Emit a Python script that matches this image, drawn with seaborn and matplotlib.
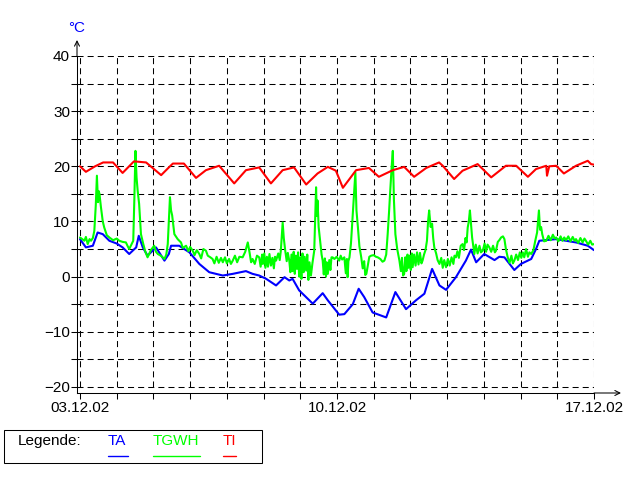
import matplotlib
matplotlib.use("Agg")
import matplotlib.pyplot as plt
import matplotlib.patches as patches
from matplotlib.lines import Line2D
import pandas as pd
import seaborn as sns

# time in days since 03.12.02 00:00, values in degC
ta_day = [0.00, 0.16, 0.35, 0.48, 0.62, 0.80, 1.00, 1.16, 1.34, 1.53, 1.60, 1.71, 1.84,
          2.07, 2.30, 2.42, 2.48, 2.70, 2.98, 3.25, 3.52, 3.89, 4.16, 4.52, 4.70, 4.88,
          5.07, 5.34, 5.57, 5.70, 5.79, 5.97, 6.34, 6.61, 6.75, 7.06, 7.20, 7.43, 7.59,
          7.74, 7.97, 8.34, 8.59, 8.88, 9.15, 9.38, 9.59, 9.79, 9.97, 10.24, 10.51, 10.65,
          10.79, 11.01, 11.29, 11.42, 11.56, 11.83, 12.01, 12.29, 12.42, 12.51, 12.97,
          13.51, 13.83, 14.00]
ta_val = [6.8, 5.3, 5.6, 8.0, 7.7, 6.5, 6.0, 5.3, 4.1, 5.3, 7.4, 5.3, 3.8,
          5.3, 2.9, 4.1, 5.6, 5.6, 4.4, 2.3, 0.8, 0.2, 0.5, 1.0, 0.5, 0.2,
          -0.4, -1.6, -0.1, -0.7, -0.4, -2.5, -4.9, -3.0, -4.3, -6.9, -6.8, -5.0, -2.2,
          -3.7, -6.5, -7.4, -2.8, -5.9, -4.3, -3.1, 1.4, -1.6, -2.4, -0.1, 2.9, 4.9,
          2.6, 4.1, 3.0, 3.6, 3.5, 1.2, 2.3, 3.2, 5.0, 6.5, 6.8,
          6.2, 5.6, 4.8]

tgwh_day = [0.00, 0.06, 0.12, 0.16, 0.21, 0.26, 0.30, 0.35, 0.39, 0.43, 0.46, 0.49, 0.51,
            0.53, 0.57, 0.62, 0.66, 0.73, 0.80, 0.90, 1.00, 1.07, 1.16, 1.25, 1.30, 1.34,
            1.40, 1.45, 1.48, 1.51, 1.54, 1.57, 1.61, 1.66, 1.72, 1.78, 1.84, 1.93, 2.02,
            2.07, 2.12, 2.20, 2.30, 2.35, 2.39, 2.42, 2.45, 2.48, 2.51, 2.57, 2.66, 2.75,
            2.80, 2.89, 2.95, 3.00, 3.07, 3.12, 3.18, 3.25, 3.30, 3.36, 3.43, 3.48, 3.55,
            3.61, 3.66, 3.72, 3.78, 3.84, 3.89, 3.95, 4.00, 4.06, 4.11, 4.16, 4.22, 4.28,
            4.34, 4.43, 4.50, 4.57, 4.62, 4.66, 4.70, 4.76, 4.82, 4.88, 4.92, 4.96, 4.98,
            5.02, 5.05, 5.09, 5.12, 5.16, 5.20, 5.24, 5.28, 5.31, 5.34, 5.40, 5.44, 5.47,
            5.52, 5.55, 5.59, 5.63, 5.66, 5.70, 5.73, 5.76, 5.79, 5.82, 5.85, 5.88, 5.91,
            5.94, 5.97, 6.00, 6.03, 6.06, 6.09, 6.12, 6.16, 6.19, 6.22, 6.25, 6.29, 6.33,
            6.38, 6.41, 6.43, 6.45, 6.47, 6.50, 6.54, 6.58, 6.61, 6.64, 6.67, 6.70, 6.72,
            6.75, 6.79, 6.82, 6.85, 6.88, 6.93, 6.99, 7.06, 7.10, 7.14, 7.20, 7.24, 7.27,
            7.29, 7.31, 7.34, 7.38, 7.43, 7.47, 7.50, 7.53, 7.57, 7.61, 7.66, 7.70, 7.74,
            7.77, 7.80, 7.84, 7.88, 7.93, 8.00, 8.06, 8.11, 8.18, 8.24, 8.29, 8.34, 8.38,
            8.42, 8.45, 8.49, 8.52, 8.55, 8.59, 8.64, 8.70, 8.74, 8.77, 8.80, 8.83, 8.86,
            8.89, 8.92, 8.95, 8.98, 9.01, 9.04, 9.06, 9.10, 9.14, 9.18, 9.22, 9.26, 9.30,
            9.33, 9.37, 9.41, 9.45, 9.48, 9.51, 9.55, 9.59, 9.62, 9.65, 9.70, 9.74, 9.79,
            9.84, 9.88, 9.92, 9.97, 10.02, 10.07, 10.12, 10.17, 10.20, 10.24, 10.28, 10.32,
            10.37, 10.42, 10.46, 10.50, 10.53, 10.56, 10.59, 10.62, 10.65, 10.68, 10.74,
            10.78, 10.83, 10.88, 10.92, 10.97, 11.02, 11.06, 11.10, 11.15, 11.20, 11.25,
            11.30, 11.33, 11.38, 11.42, 11.47, 11.52, 11.56, 11.60, 11.65, 11.70, 11.75,
            11.79, 11.83, 11.88, 11.93, 11.98, 12.02, 12.06, 12.10, 12.15, 12.20, 12.24,
            12.29, 12.35, 12.40, 12.45, 12.48, 12.50, 12.53, 12.56, 12.59, 12.64, 12.70,
            12.76, 12.82, 12.88, 12.93, 12.97, 13.03, 13.09, 13.14, 13.19, 13.24, 13.30,
            13.36, 13.42, 13.47, 13.51, 13.57, 13.63, 13.69, 13.74, 13.78, 13.84, 13.90,
            13.95, 14.00]
tgwh_val = [7.1, 6.8, 6.5, 7.2, 5.9, 6.8, 6.5, 7.0, 8.3, 13.0, 18.3, 13.5, 15.5,
            15.0, 12.6, 10.0, 8.9, 7.5, 7.1, 6.6, 6.9, 6.5, 6.3, 6.2, 5.5, 5.0,
            5.8, 6.5, 14.0, 22.8, 18.0, 15.6, 13.2, 7.7, 6.0, 4.5, 3.5, 4.8, 5.6,
            4.5, 4.1, 3.8, 3.2, 4.0, 5.9, 10.0, 14.4, 12.0, 11.1, 7.7, 6.8, 6.2,
            5.2, 5.6, 4.6, 5.4, 4.7, 3.9, 4.8, 4.1, 3.3, 5.0, 4.7, 3.8, 3.5,
            3.2, 2.4, 3.6, 2.5, 3.4, 2.6, 3.5, 2.4, 3.2, 2.3, 2.9, 3.8, 2.6,
            3.6, 3.5, 4.5, 6.2, 4.3, 2.6, 3.2, 2.3, 3.8, 3.5, 1.8, 4.0, 2.3,
            4.2, 1.6, 3.6, 1.8, 4.1, 2.0, 3.4, 1.5, 3.6, 2.9, 4.2, 3.0, 4.7,
            9.8, 7.0, 4.7, 2.8, 4.3, 2.9, 0.8, 4.0, 1.0, 4.5, 0.5, 3.8, 1.4,
            4.4, 0.0, 3.5, -0.4, 4.2, 0.8, 3.6, 1.1, 4.0, -0.6, 2.6, 0.2, 2.4,
            4.7, 12.0, 16.2, 11.0, 13.8, 9.0, 6.5, 4.0, 2.9, 0.4, 3.3, 0.0, 2.6,
            0.5, 3.0, 1.2, 3.5, 3.5, 3.2, 3.6, 2.9, 3.8, 3.1, 3.5, 0.6, 3.2,
            -0.1, 2.8, 3.5, 6.0, 11.4, 16.0, 18.9, 12.0, 8.9, 5.5, 3.5, 1.5, 2.8,
            0.3, 0.5, 2.0, 3.6, 3.8, 3.9, 3.6, 3.5, 3.2, 2.7, 2.9, 4.0, 7.7,
            12.0, 15.6, 20.0, 22.8, 14.0, 7.7, 5.0, 2.9, 1.0, 3.4, 0.2, 0.5, 3.5,
            1.0, 4.0, 1.6, 3.8, 1.2, 4.2, 1.7, 4.0, 2.0, 4.4, 2.2, 4.3, 2.4,
            2.9, 4.0, 4.8, 6.5, 10.0, 12.0, 9.0, 9.6, 7.0, 5.3, 4.2, 3.0, 2.3,
            3.4, 1.6, 3.0, 1.7, 3.2, 2.0, 3.5, 2.3, 3.8, 3.5, 4.6, 3.4,
            5.6, 5.9, 4.8, 7.0, 6.2, 8.9, 10.0, 12.0, 9.5, 7.1, 4.1,
            5.8, 4.2, 5.6, 4.4, 4.7, 6.0, 4.5, 5.8, 5.3, 4.5, 5.6,
            4.4, 4.7, 6.3, 6.6, 7.1, 7.3, 6.8, 5.0, 3.5, 2.5, 3.8,
            2.4, 2.9, 4.0, 3.0, 4.4, 3.4, 4.4, 3.5, 5.0, 3.6, 4.4,
            4.1, 4.8, 6.5, 8.0, 10.5, 12.0, 8.5, 9.0, 7.7, 6.4, 6.5,
            7.4, 6.6, 7.6, 6.9, 7.1, 6.4, 7.3, 6.5, 7.1, 6.6, 7.3,
            6.4, 7.2, 6.5, 6.8, 6.1, 7.0, 6.2, 6.9, 6.5, 5.8, 6.5,
            5.8, 5.9]

ti_day = [0.00, 0.16, 0.41, 0.63, 0.90, 1.16, 1.47, 1.80, 2.21, 2.42, 2.53, 2.83, 3.16,
          3.43, 3.79, 4.20, 4.52, 4.88, 5.20, 5.52, 5.83, 6.16, 6.47, 6.75, 6.97, 7.16,
          7.52, 7.87, 8.14, 8.52, 8.83, 9.10, 9.43, 9.78, 9.88, 10.19, 10.42, 10.83,
          11.20, 11.60, 11.88, 12.20, 12.42, 12.70, 12.72, 12.78, 12.97, 13.18, 13.51,
          13.83, 13.92, 14.00]
ti_val = [20.0, 19.0, 20.0, 20.7, 20.7, 18.8, 20.9, 20.7, 18.4, 19.8, 20.5, 20.5, 17.9,
          19.3, 20.1, 16.9, 19.3, 19.8, 16.9, 19.3, 19.8, 16.7, 18.7, 19.9, 19.2, 16.1,
          19.3, 19.7, 18.1, 19.3, 19.9, 18.1, 19.7, 20.7, 20.1, 17.7, 19.2, 20.4,
          18.0, 20.1, 20.1, 18.1, 19.5, 20.1, 18.3, 20.0, 20.1, 18.7, 20.1,
          21.0, 20.4, 20.3]

date_labels = ["03.12.02", "10.12.02", "17.12.02"]
label_days = [0, 7, 14]
y_labels = [-20, -10, 0, 10, 20, 30, 40]
series_names = ["TA", "TGWH", "TI"]
series_colors = ["#0000ff", "#00ff00", "#ff0000"]

sns.set_theme(style="white")
plt.rcParams["font.family"] = ["Liberation Sans", "DejaVu Sans"]

W, H = 640, 480
fig = plt.figure(figsize=(6.4, 4.8), dpi=100)
ax = fig.add_axes([77 / W, 1 - 393 / H, (594 - 77) / W, (393 - 56) / H])
ax.set_xlim(-0.082, 14)
ax.set_ylim(-21.1, 40)

# dashed grid, only inside the data range
dash = (0, (5.8, 3.9))
ax.hlines(range(-20, 41, 5), -0.082, 14, colors="black", linestyles=dash, lw=0.75, zorder=1)
ax.vlines(range(0, 15), -20, 40, colors="black", linestyles=dash, lw=0.75, zorder=1)

data = [(ta_day, ta_val), (tgwh_day, tgwh_val), (ti_day, ti_val)]
for (d, v), name, col in zip(data, series_names, series_colors):
    df = pd.DataFrame({"day": d, "temp": v})
    sns.lineplot(data=df, x="day", y="temp", color=col, lw=1.5, ax=ax,
                 estimator=None, sort=False, zorder=3)

ax.set_xlabel("")
ax.set_ylabel("")
for s in ["top", "right"]:
    ax.spines[s].set_visible(False)
for s in ["left", "bottom"]:
    ax.spines[s].set_color("black")
    ax.spines[s].set_linewidth(0.75)

ax.set_xticks(label_days)
ax.set_xticklabels(date_labels)
ax.set_xticks(range(0, 15), minor=True)
ax.set_yticks(y_labels)
ax.set_yticks(range(-20, 41, 5), minor=True)
ax.tick_params(which="both", direction="out", length=4, width=0.75, color="black",
               bottom=True, left=True, labelsize=11, labelcolor="black")
ax.tick_params(axis="y", pad=1)
ax.tick_params(axis="x", pad=2)

# axis arrows
arrow = dict(arrowstyle="->", lw=0.75, color="black", shrinkA=0, shrinkB=0, mutation_scale=9)
ax.annotate("", xy=(621, H - 393), xytext=(594, H - 393), xycoords="figure pixels",
            textcoords="figure pixels", arrowprops=arrow, annotation_clip=False)
ax.annotate("", xy=(77, H - 40), xytext=(77, H - 56), xycoords="figure pixels",
            textcoords="figure pixels", arrowprops=arrow, annotation_clip=False)

fig.text(77 / W, 1 - 28 / H, "°C", color="#0000ff", fontsize=11, ha="center", va="center")

# legend box at the bottom
fig.patches.append(patches.Rectangle((4 / W, 1 - 463 / H), 258 / W, 33 / H,
                                     transform=fig.transFigure, fill=False,
                                     ec="black", lw=0.75))
fig.text(18 / W, 1 - 441 / H, "Legende:", fontsize=11, ha="left", va="center", color="black")
leg_x = [(108, 128), (153, 200), (223, 236)]
for (x0, x1), name, col in zip(leg_x, series_names, series_colors):
    fig.text(x0 / W, 1 - 441 / H, name, fontsize=11, ha="left", va="center", color=col)
    fig.lines.append(Line2D([x0 / W, x1 / W], [1 - 456 / H, 1 - 456 / H],
                            transform=fig.transFigure, color=col, lw=1))

fig.savefig("out.png", dpi=100, facecolor="white")
